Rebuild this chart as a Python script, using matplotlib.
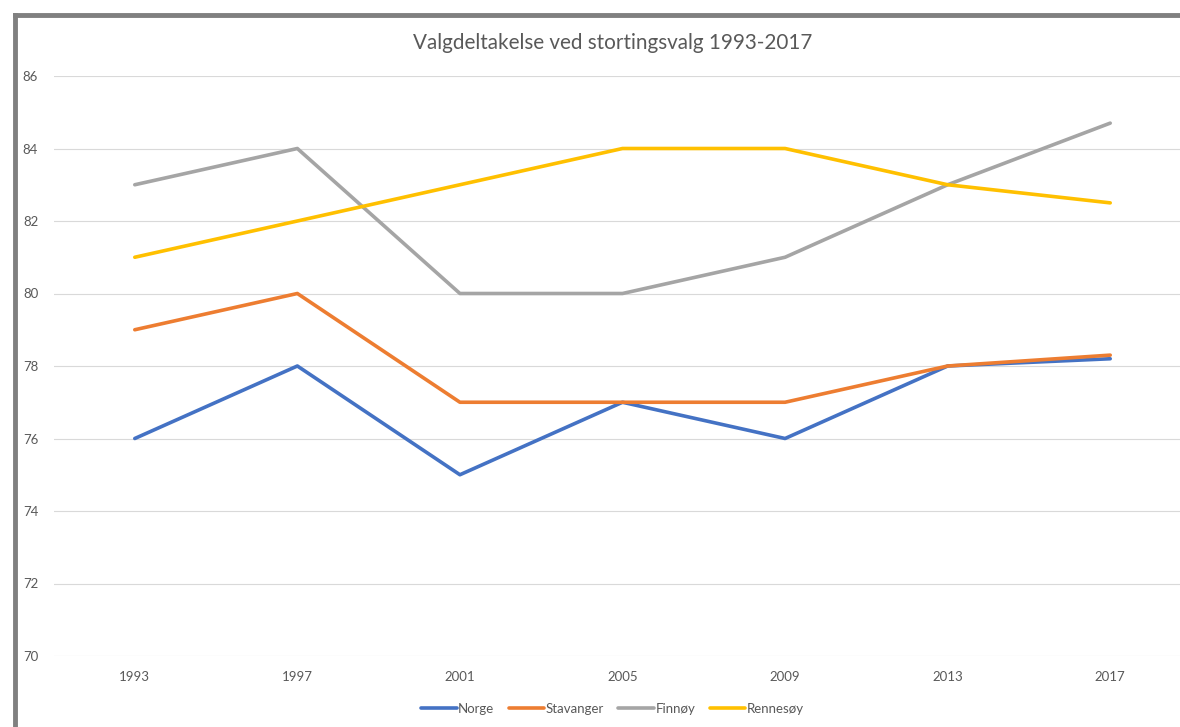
import matplotlib.pyplot as plt
from matplotlib.lines import Line2D

years = ["1993", "1997", "2001", "2005", "2009", "2013", "2017"]
norge = [76, 78, 75, 77, 76, 78, 78.2]
stavanger = [79, 80, 77, 77, 77, 78, 78.3]
finnoy = [83, 84, 80, 80, 81, 83, 84.7]
rennesoy = [81, 82, 83, 84, 84, 83, 82.5]

series = [
    ("Norge", norge, "#4472C4"),
    ("Stavanger", stavanger, "#ED7D31"),
    ("Finnøy", finnoy, "#A5A5A5"),
    ("Rennesøy", rennesoy, "#FFC000"),
]

plt.rcParams['font.family'] = ['Lato', 'DejaVu Sans']

fig = plt.figure(figsize=(11.8, 7.27), dpi=100)
ax = fig.add_axes([53.5 / 1180, 1 - 656 / 727, 1138 / 1180, 580 / 727])

x = list(range(len(years)))
for name, vals, color in series:
    ax.plot(x, vals, color=color, linewidth=2.6, label=name, solid_capstyle='round')

ax.set_xlim(-0.5, len(years) - 0.5)
ax.set_ylim(70, 86)
ax.set_yticks(range(70, 87, 2))
ax.set_xticks(x)
ax.set_xticklabels(years)
ax.grid(axis='y', color='#D9D9D9', linewidth=0.8)
ax.set_axisbelow(True)
for s in ax.spines.values():
    s.set_visible(False)
ax.tick_params(length=0, colors='#595959', labelsize=9.5)
ax.tick_params(axis='y', pad=11)
ax.tick_params(axis='x', pad=11)

fig.text(0.519, 1 - 43 / 727, "Valgdeltakelse ved stortingsvalg 1993-2017",
         ha='center', va='center', fontsize=14.9, color='#595959')

leg = fig.legend(loc='center', bbox_to_anchor=(0.519, 1 - 709 / 727), ncol=4,
                 frameon=False, fontsize=9.5, handlelength=2.7,
                 handletextpad=0.1, columnspacing=1.1)
for t in leg.get_texts():
    t.set_color('#595959')

# grey frame at top and left edges
fig.add_artist(Line2D([15 / 1180, 15 / 1180], [0, 1 - 15 / 727], transform=fig.transFigure,
                      color='#808080', linewidth=3.5, solid_capstyle='projecting'))
fig.add_artist(Line2D([15 / 1180, 1], [1 - 15 / 727, 1 - 15 / 727], transform=fig.transFigure,
                      color='#808080', linewidth=3.5, solid_capstyle='projecting'))

fig.savefig("out.png", dpi=100)
